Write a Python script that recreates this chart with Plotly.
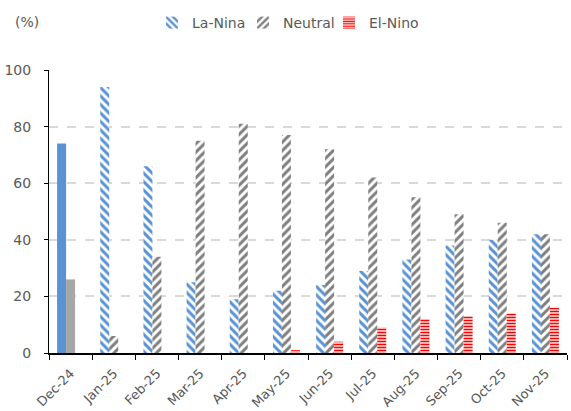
import plotly.graph_objects as go

# ENSO outlook probabilities by month (%)
months = ["Dec-24", "Jan-25", "Feb-25", "Mar-25", "Apr-25", "May-25",
          "Jun-25", "Jul-25", "Aug-25", "Sep-25", "Oct-25", "Nov-25"]
la_nina = [74, 94, 66, 25, 19, 22, 24, 29, 33, 38, 40, 42]
neutral = [26, 6, 34, 75, 81, 77, 72, 62, 55, 49, 46, 42]
el_nino = [0, 0, 0, 0, 0, 1, 4, 9, 12, 13, 14, 16]
y_ticks = [0, 20, 40, 60, 80, 100]

BLUE = "#5A93D3"
GRAY_SOLID = "#A6A6A6"
GRAY_HATCH = "#7F7F7F"
RED = "#FF0000"
TXT = "#595959"
FONT = "Verdana, DejaVu Sans, sans-serif"
W, H = 571, 411

fig = go.Figure()

# first month: observed values drawn as solid bars
fig.add_trace(go.Bar(x=months[:1], y=la_nina[:1], offsetgroup="la",
                     marker=dict(color=BLUE, line_width=0), showlegend=False,
                     name="La-Nina"))
fig.add_trace(go.Bar(x=months[:1], y=neutral[:1], offsetgroup="ne",
                     marker=dict(color=GRAY_SOLID, line_width=0), showlegend=False,
                     name="Neutral"))


def hatch(shape, color, size, solidity):
    return dict(shape=shape, size=size, solidity=solidity, fillmode="overlay",
                fgcolor=color, bgcolor="white", fgopacity=1)


# forecast months: hatched bars, each series with its own legend box
fig.add_trace(go.Bar(x=months[1:], y=la_nina[1:], offsetgroup="la", name="La-Nina",
                     legend="legend",
                     marker=dict(color="white", line_width=0,
                                 pattern=hatch("\\", BLUE, 6, 0.5))))
fig.add_trace(go.Bar(x=months[1:], y=neutral[1:], offsetgroup="ne", name="Neutral",
                     legend="legend2",
                     marker=dict(color="white", line_width=0,
                                 pattern=hatch("/", GRAY_HATCH, 6, 0.5))))
fig.add_trace(go.Bar(x=months, y=el_nino, offsetgroup="el", name="El-Nino",
                     legend="legend3",
                     marker=dict(color="white", line_width=0,
                                 pattern=hatch("-", RED, 3, 0.55))))


def legend_box(text_left_px):
    return dict(orientation="h", xref="container", x=(text_left_px - 42) / W,
                xanchor="left", yref="container", y=1 - 23 / H, yanchor="middle",
                font=dict(size=14, color=TXT), bgcolor="rgba(0,0,0,0)")


fig.update_layout(
    width=W, height=H,
    margin=dict(l=49, r=4, t=70, b=58, autoexpand=False),
    paper_bgcolor="white", plot_bgcolor="white",
    barmode="group", bargap=0.375, bargroupgap=0,
    font=dict(family=FONT, size=13, color=TXT),
    legend=legend_box(194),
    legend2=legend_box(285),
    legend3=legend_box(371),
    annotations=[dict(text="(%)", xref="paper", yref="paper", x=-0.07, y=1.17,
                      xanchor="left", yanchor="middle", showarrow=False,
                      font=dict(size=14, color=TXT))],
)

fig.update_xaxes(
    type="category", showline=True, linecolor="#000000", linewidth=1.5,
    ticks="outside", tickson="boundaries", ticklen=5, tickcolor="#000000",
    tickangle=-45, showgrid=False, ticklabelstandoff=6,
    tickfont=dict(size=13, color=TXT),
)
fig.update_yaxes(
    range=[0, 100], tickvals=y_ticks, showline=True, linecolor="#000000",
    linewidth=1, ticks="outside", ticklen=4, tickcolor="#000000",
    showgrid=True, gridcolor="#D9D9D9", gridwidth=1.5, griddash="dash",
    zeroline=False, ticklabelstandoff=10, tickfont=dict(size=14, color=TXT),
)

fig.write_html("out.html")
